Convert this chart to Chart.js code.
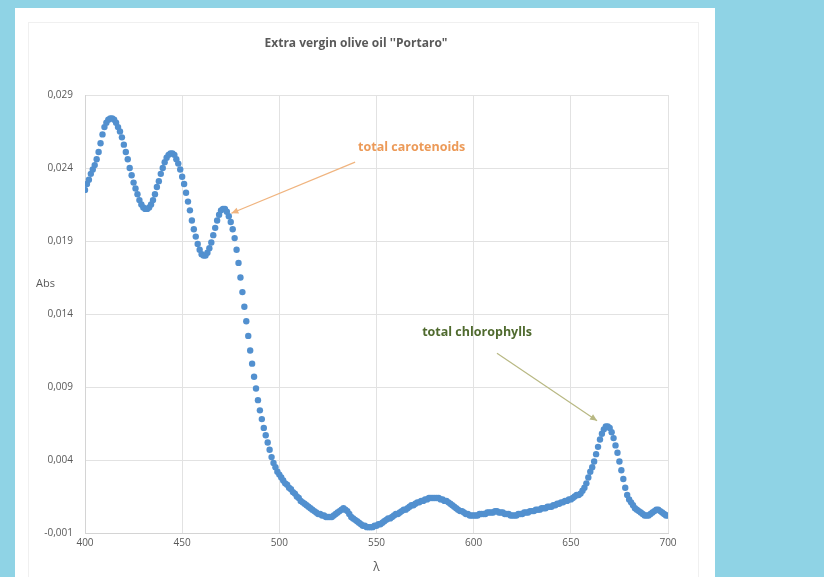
<!DOCTYPE html>
<html><head><meta charset="utf-8">
<script src="https://cdn.jsdelivr.net/npm/chart.js@4/dist/chart.umd.min.js"></script>
<style>
html,body{margin:0;padding:0;background:#8fd3e5;}
#wrap{position:relative;width:824px;height:577px;overflow:hidden;background:#8fd3e5;}
#panel{position:absolute;left:15px;top:8px;width:700px;height:569px;background:#fff;}
#frame{position:absolute;left:28px;top:22px;width:669px;height:570px;border:1px solid #f0f0f0;}
canvas{position:absolute;left:0;top:0;}
</style></head><body>
<div id="wrap"><div id="panel"></div><div id="frame"></div><canvas id="c" width="824" height="577"></canvas></div>
<script>
const chartTitle = "Extra vergin olive oil ''Portaro\"";
const xAxisTitle = "λ";
const yAxisTitle = "Abs";
const wavelengths = [
400,401,402,403,404,405,406,407,408,409,
410,411,412,413,414,415,416,417,418,419,
420,421,422,423,424,425,426,427,428,429,
430,431,432,433,434,435,436,437,438,439,
440,441,442,443,444,445,446,447,448,449,
450,451,452,453,454,455,456,457,458,459,
460,461,462,463,464,465,466,467,468,469,
470,471,472,473,474,475,476,477,478,479,
480,481,482,483,484,485,486,487,488,489,
490,491,492,493,494,495,496,497,498,499,
500,501,502,503,504,505,506,507,508,509,
510,511,512,513,514,515,516,517,518,519,
520,521,522,523,524,525,526,527,528,529,
530,531,532,533,534,535,536,537,538,539,
540,541,542,543,544,545,546,547,548,549,
550,551,552,553,554,555,556,557,558,559,
560,561,562,563,564,565,566,567,568,569,
570,571,572,573,574,575,576,577,578,579,
580,581,582,583,584,585,586,587,588,589,
590,591,592,593,594,595,596,597,598,599,
600,601,602,603,604,605,606,607,608,609,
610,611,612,613,614,615,616,617,618,619,
620,621,622,623,624,625,626,627,628,629,
630,631,632,633,634,635,636,637,638,639,
640,641,642,643,644,645,646,647,648,649,
650,651,652,653,654,655,656,657,658,659,
660,661,662,663,664,665,666,667,668,669,
670,671,672,673,674,675,676,677,678,679,
680,681,682,683,684,685,686,687,688,689,
690,691,692,693,694,695,696,697,698,699,
700];
const absorbance = [
0.0225,0.0229,0.0232,0.0236,0.0239,0.0242,0.0246,0.0251,0.0257,0.0263,
0.0268,0.0271,0.0273,0.0274,0.0274,0.0273,0.0271,0.0268,0.0265,0.0261,
0.0256,0.0251,0.0246,0.0240,0.0235,0.0230,0.0226,0.0222,0.0218,0.0215,
0.0213,0.0212,0.0212,0.0213,0.0215,0.0218,0.0222,0.0227,0.0231,0.0236,
0.0240,0.0244,0.0247,0.0249,0.0250,0.0250,0.0249,0.0246,0.0243,0.0239,
0.0234,0.0229,0.0223,0.0217,0.0211,0.0204,0.0198,0.0193,0.0188,0.0184,
0.0181,0.0180,0.0180,0.0182,0.0185,0.0189,0.0194,0.0199,0.0204,0.0208,
0.0211,0.0212,0.0212,0.0210,0.0207,0.0203,0.0198,0.0192,0.0184,0.0175,
0.0165,0.0155,0.0145,0.0135,0.0125,0.0115,0.0106,0.0097,0.0089,0.0081,
0.0074,0.0068,0.0062,0.0057,0.0052,0.0047,0.0042,0.0038,0.0035,0.0032,
0.0030,0.0028,0.0026,0.0024,0.0023,0.0021,0.0020,0.0018,0.0017,0.0015,
0.0014,0.0012,0.0011,0.0010,0.0009,0.0008,0.0007,0.0006,0.0005,0.0004,
0.0003,0.0003,0.0002,0.0002,0.0001,0.0001,0.0001,0.0001,0.0002,0.0003,
0.0004,0.0005,0.0006,0.0007,0.0006,0.0005,0.0003,0.0001,0.0000,-0.0001,
-0.0002,-0.0003,-0.0004,-0.0005,-0.0005,-0.0006,-0.0006,-0.0006,-0.0006,-0.0005,
-0.0005,-0.0004,-0.0004,-0.0003,-0.0002,-0.0001,0.0000,0.0000,0.0001,0.0002,
0.0003,0.0003,0.0004,0.0005,0.0006,0.0006,0.0007,0.0008,0.0009,0.0009,
0.0010,0.0011,0.0011,0.0012,0.0012,0.0013,0.0013,0.0014,0.0014,0.0014,
0.0014,0.0014,0.0014,0.0013,0.0013,0.0012,0.0012,0.0011,0.0010,0.0009,
0.0008,0.0007,0.0006,0.0005,0.0005,0.0004,0.0003,0.0003,0.0002,0.0002,
0.0002,0.0002,0.0002,0.0003,0.0003,0.0003,0.0003,0.0004,0.0004,0.0004,
0.0004,0.0005,0.0005,0.0004,0.0004,0.0004,0.0003,0.0003,0.0003,0.0002,
0.0002,0.0002,0.0002,0.0003,0.0003,0.0003,0.0004,0.0004,0.0004,0.0005,
0.0005,0.0005,0.0006,0.0006,0.0006,0.0007,0.0007,0.0007,0.0008,0.0008,
0.0008,0.0009,0.0009,0.0010,0.0010,0.0011,0.0011,0.0012,0.0012,0.0013,
0.0013,0.0014,0.0015,0.0016,0.0016,0.0017,0.0019,0.0021,0.0024,0.0028,
0.0032,0.0035,0.0039,0.0044,0.0049,0.0054,0.0058,0.0061,0.0063,0.0063,
0.0062,0.0059,0.0055,0.0050,0.0045,0.0039,0.0033,0.0027,0.0021,0.0016,
0.0013,0.0011,0.0009,0.0007,0.0006,0.0005,0.0004,0.0003,0.0002,0.0002,
0.0002,0.0003,0.0004,0.0005,0.0006,0.0006,0.0005,0.0004,0.0003,0.0002,
0.0002];
const xTicks = [400,450,500,550,600,650,700];
const yTicks = [-0.001,0.004,0.009,0.014,0.019,0.024,0.029];

// annotation texts with anchor/target in data units
const notes = [
  {text:"total carotenoids", color:"#ec9a58", arrow:"#f0b47f", tx:540.5, ty:0.0254, ax:539, ay:0.0244, bx:475.3, by:0.0209},
  {text:"total chlorophylls", color:"#4f6a2e", arrow:"#b8b883", tx:573.5, ty:0.01274, ax:612, ay:0.01131, bx:663.5, by:0.00669}
];

const FONT = "'Open Sans', 'Liberation Sans', sans-serif";

const decor = {
  id:'decor',
  afterDraw(chart){
    const ctx = chart.ctx, xs = chart.scales.x, ys = chart.scales.y;
    ctx.save();
    ctx.fillStyle = '#595959';
    ctx.font = "bold 12px " + FONT;
    ctx.textAlign = 'center'; ctx.textBaseline = 'middle';
    ctx.fillText(chartTitle, 356, 44);
    ctx.font = "11px " + FONT;
    ctx.textAlign = 'left';
    ctx.fillText(yAxisTitle, 36, 284);
    ctx.textAlign = 'center';
    ctx.font = "12px " + FONT;
    ctx.fillText(xAxisTitle, (xs.left+xs.right)/2, 568);
    notes.forEach(n=>{
      const x1 = xs.getPixelForValue(n.ax), y1 = ys.getPixelForValue(n.ay);
      const x2 = xs.getPixelForValue(n.bx), y2 = ys.getPixelForValue(n.by);
      ctx.strokeStyle = n.arrow; ctx.fillStyle = n.arrow; ctx.lineWidth = 1.2;
      ctx.beginPath(); ctx.moveTo(x1,y1); ctx.lineTo(x2,y2); ctx.stroke();
      const ang = Math.atan2(y2-y1, x2-x1), L = 7, W = 3.2;
      ctx.beginPath();
      ctx.moveTo(x2,y2);
      ctx.lineTo(x2 - L*Math.cos(ang) + W*Math.sin(ang), y2 - L*Math.sin(ang) - W*Math.cos(ang));
      ctx.lineTo(x2 - L*Math.cos(ang) - W*Math.sin(ang), y2 - L*Math.sin(ang) + W*Math.cos(ang));
      ctx.closePath(); ctx.fill();
      ctx.fillStyle = n.color;
      ctx.font = "bold 12.5px " + FONT;
      ctx.textAlign = 'left'; ctx.textBaseline = 'middle';
      ctx.fillText(n.text, xs.getPixelForValue(n.tx), ys.getPixelForValue(n.ty));
    });
    ctx.restore();
  }
};

new Chart(document.getElementById('c'), {
  type:'scatter',
  data:{datasets:[{
    label:'Abs',
    data: wavelengths.map((w,i)=>({x:w, y:absorbance[i]})),
    backgroundColor:'#5290cf',
    borderColor:'#5290cf',
    borderWidth:0,
    pointRadius:3.2,
    showLine:false
  }]},
  options:{
    responsive:false,
    devicePixelRatio:1,
    animation:false,
    layout:{padding:{left:0,right:156,top:95,bottom:0}},
    plugins:{legend:{display:false}, tooltip:{enabled:false}, title:{display:false}},
    scales:{
      x:{
        type:'linear', min:400, max:700,
        afterBuildTicks(s){ s.ticks = xTicks.map(v=>({value:v})); },
        afterFit(s){ s.height = 44; },
        grid:{color:'#e2e2e2', drawTicks:false, lineWidth:1},
        border:{color:'#d4d4d4'},
        ticks:{color:'#595959', font:{size:10, family:FONT}, padding:4, maxRotation:0, autoSkip:false,
          callback:(v)=>String(v)}
      },
      y:{
        type:'linear', min:-0.001, max:0.029,
        afterBuildTicks(s){ s.ticks = yTicks.map(v=>({value:v})); },
        afterFit(s){ s.width = 85; },
        grid:{color:'#e2e2e2', drawTicks:false, lineWidth:1},
        border:{color:'#d4d4d4'},
        ticks:{color:'#595959', font:{size:10, family:FONT}, padding:12, autoSkip:false,
          callback:(v)=>v.toFixed(3).replace('.',',')}
      }
    }
  },
  plugins:[decor]
});
</script>
</body></html>
